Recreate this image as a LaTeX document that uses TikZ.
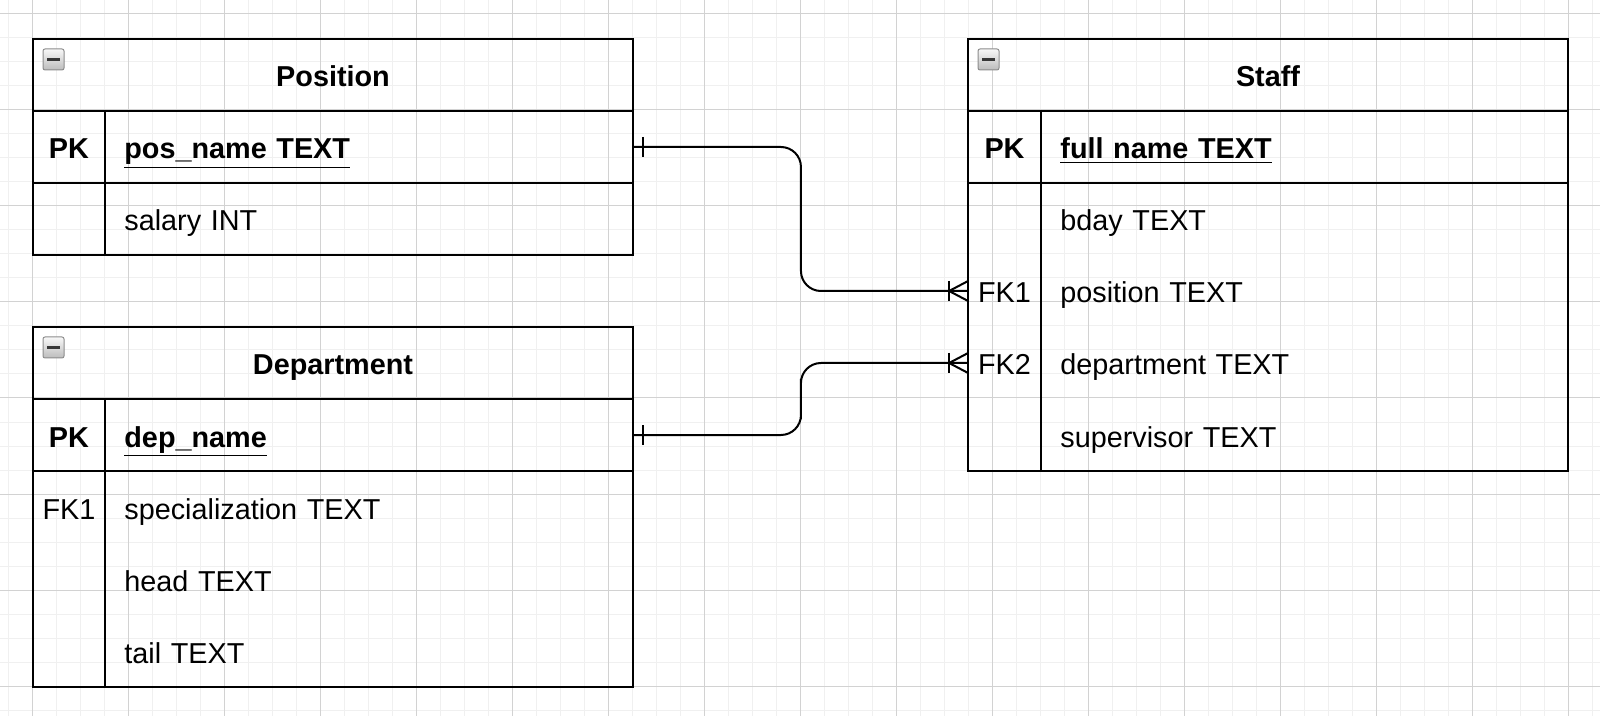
\documentclass[tikz,border=0pt]{standalone}
\usepackage{fontspec}
\setmainfont{Liberation Sans}
\usetikzlibrary{calc}
\definecolor{GridClr}{RGB}{240,240,240}
\definecolor{GridMajorClr}{RGB}{210,210,210}
\definecolor{IconClr}{RGB}{140,140,140}
\definecolor{IconTopClr}{RGB}{248,248,248}
\definecolor{IconBotClr}{RGB}{188,188,188}
\definecolor{MinusClr}{RGB}{55,55,55}

\tikzset{
  tbl/.style={line width=1pt,color=black},
  conn/.style={line width=1pt,color=black},
  erfont/.style={font=\fontsize{14.4}{17}\selectfont,text height=15pt,text depth=3pt},
  title/.style={erfont,font=\fontsize{14.4}{17}\selectfont\bfseries},
  key/.style={erfont,minimum width=36pt,minimum height=36pt,inner sep=0pt},
  fld/.style={erfont,minimum height=36pt,inner xsep=9.5pt,inner ysep=0pt,text width=#1,align=left,anchor=west},
  fld/.default=245pt,
  iconbox/.style={draw=IconClr,line width=0.5pt,rounded corners=1pt,top color=IconTopClr,bottom color=IconBotClr},
  minus/.style={draw=MinusClr,line width=1.8pt}
}

\begin{document}
\begin{tikzpicture}[x=0.5pt,y=-0.5pt]
\useasboundingbox (0,0) rectangle (1600,716);

% grid
\foreach \gx in {8,32,...,1592} \draw[GridClr,line width=0.5pt] (\gx,0) -- (\gx,716);
\foreach \gy in {14,38,...,710} \draw[GridClr,line width=0.5pt] (0,\gy) -- (1600,\gy);
\foreach \gx in {32,128,...,1568} \draw[GridMajorClr,line width=0.5pt] (\gx,0) -- (\gx,716);
\foreach \gy in {14,110,...,686} \draw[GridMajorClr,line width=0.5pt] (0,\gy) -- (1600,\gy);

% Position
\draw[tbl] (33,39) rectangle (633,255);
\draw[tbl] (33,111) -- (633,111) (33,183) -- (633,183) (105,111) -- (105,255);
\draw[iconbox] (43,49) rectangle ++(21,21);
\draw[minus] (47,59.5) -- ++(13,0);
\node[title] (posTitle) at (333,75) {Position};
\node[key] (posPKlbl) at (69,147) {\textbf{PK}};
\node[fld] (posName) at (105,147) {\textbf{\underline{pos\_name TEXT}}};
\node[fld] (salary) at (105,219) {salary INT};

% Department
\draw[tbl] (33,327) rectangle (633,687);
\draw[tbl] (33,399) -- (633,399) (33,471) -- (633,471) (105,399) -- (105,687);
\draw[iconbox] (43,337) rectangle ++(21,21);
\draw[minus] (47,347.5) -- ++(13,0);
\node[title] (depTitle) at (333,363) {Department};
\node[key] (depPKlbl) at (69,435) {\textbf{PK}};
\node[fld] (depName) at (105,435) {\textbf{\underline{dep\_name}}};
\node[key] (depFK1) at (69,507) {FK1};
\node[fld] (spec) at (105,507) {specialization TEXT};
\node[fld] (head) at (105,579) {head TEXT};
\node[fld] (tail) at (105,651) {tail TEXT};

% Staff
\draw[tbl] (968,39) rectangle (1568,471);
\draw[tbl] (968,111) -- (1568,111) (968,183) -- (1568,183) (1041,111) -- (1041,471);
\draw[iconbox] (978,49) rectangle ++(21,21);
\draw[minus] (982,59.5) -- ++(13,0);
\node[title] (staffTitle) at (1268,75) {Staff};
\node[key] (staffPKlbl) at (1004.5,147) {\textbf{PK}};
\node[fld=244.5pt] (fullName) at (1041,147) {\textbf{\underline{full name TEXT}}};
\node[fld=244.5pt] (bday) at (1041,219) {bday TEXT};
\node[key] (staffFK1) at (1004.5,291) {FK1};
\node[fld=244.5pt] (position) at (1041,291) {position TEXT};
\node[key] (staffFK2) at (1004.5,363) {FK2};
\node[fld=244.5pt] (department) at (1041,363) {department TEXT};
\node[fld=244.5pt] (supervisor) at (1041,435) {supervisor TEXT};

% relations
\coordinate (m1) at ($(posName.east)!.5!(staffFK1.west)$);
\coordinate (m2) at ($(depName.east)!.5!(staffFK2.west)$);
\draw[conn,rounded corners=10pt] (posName.east) -| (m1) |- (staffFK1.west);
\draw[conn,rounded corners=10pt] (depName.east) -| (m2) |- (staffFK2.west);

\draw[conn] (posName.east) ++(9,-10) -- ++(0,20);
\draw[conn] (depName.east) ++(9,-10) -- ++(0,20);

\draw[conn] (staffFK1.west) ++(-19,-10) -- ++(0,20);
\draw[conn] (staffFK1.west) ++(0,-10) -- ++(-19,10) -- ++(19,10);
\draw[conn] (staffFK2.west) ++(-19,-10) -- ++(0,20);
\draw[conn] (staffFK2.west) ++(0,-10) -- ++(-19,10) -- ++(19,10);

\end{tikzpicture}
\end{document}
